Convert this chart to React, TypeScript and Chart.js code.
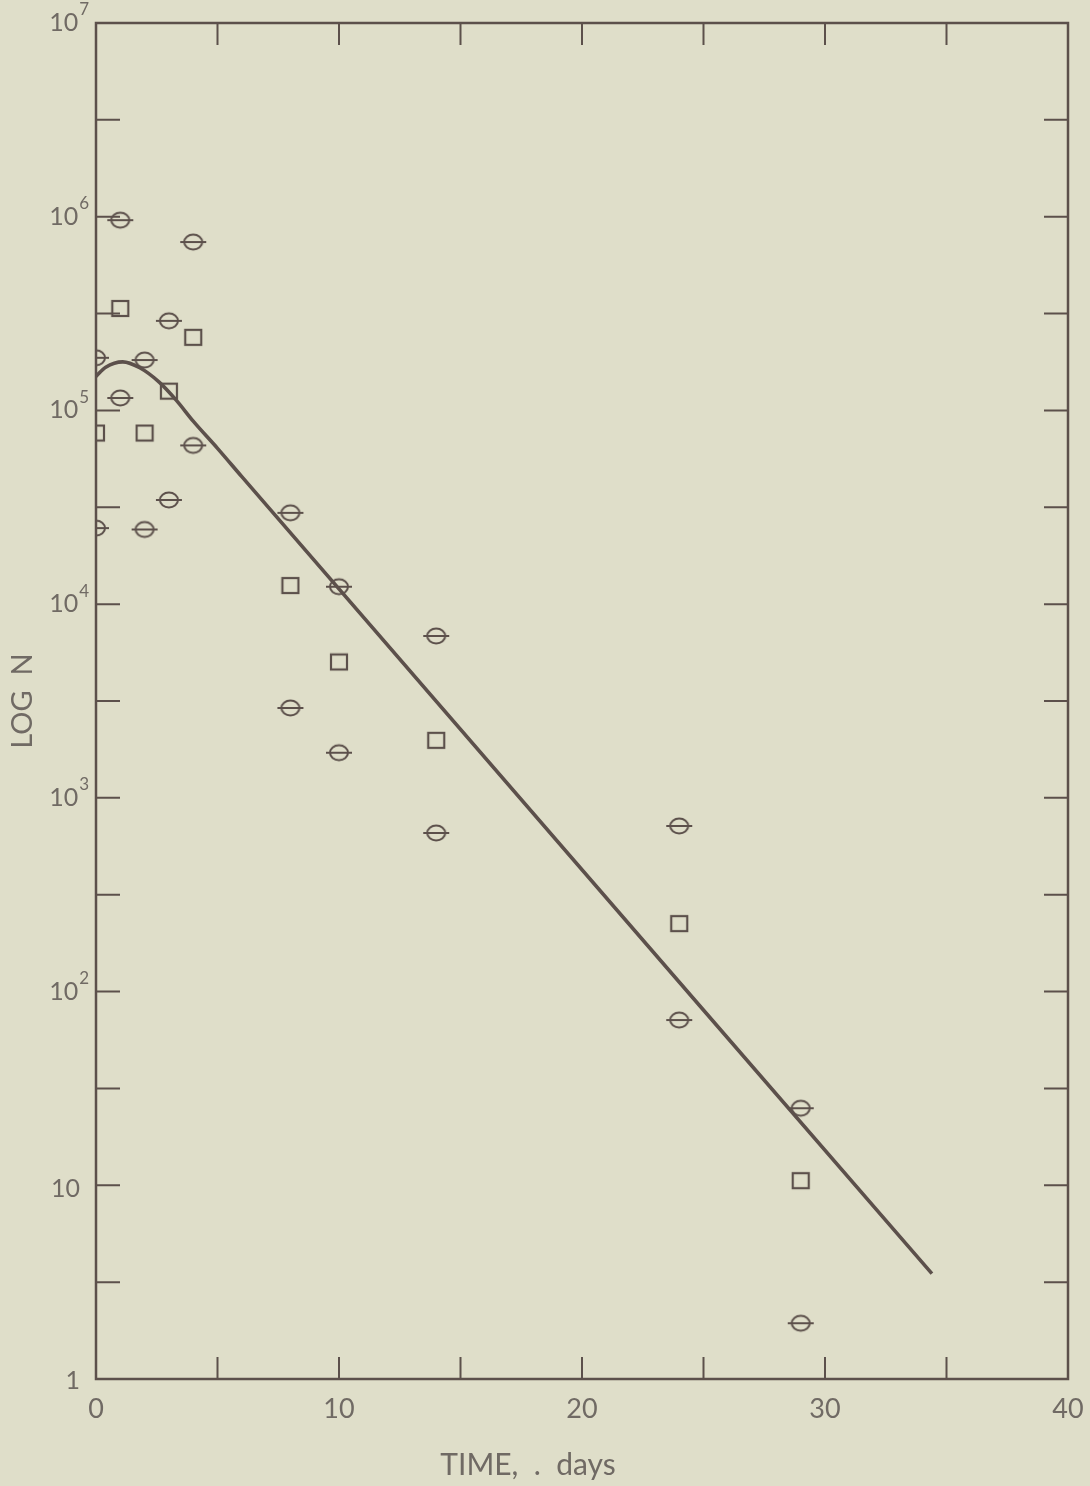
import React, { useEffect, useRef } from "react";
import { Chart, registerables } from "chart.js";

Chart.register(...registerables);

// ---- data ----
const timeDays = [0, 1, 2, 3, 4, 8, 10, 14, 24, 29];
const upperCounts = [1.87e5, 9.6e5, 1.82e5, 2.9e5, 7.4e5, 2.96e4, 1.23e4, 6.85e3, 716, 25];
const meanCounts = [7.6e4, 3.34e5, 7.6e4, 1.25e5, 2.37e5, 1.24e4, 5.0e3, 1.97e3, 223, 10.5];
const lowerCounts = [2.47e4, 1.16e5, 2.43e4, 3.45e4, 6.6e4, 2.91e3, 1.71e3, 659, 71.3, 1.94];

const curveX = [0, 0.4, 1.1, 1.8, 2.6, 3.3, 4.0, 5.0, 6.0, 34.4];
const curveY = [1.5e5, 1.67e5, 1.78e5, 1.66e5, 1.4e5, 1.13e5, 8.8e4, 6.37e4, 4.55e4, 3.5];

const xLabelValues = [0, 10, 20, 30, 40];
const xTickValues = [5, 10, 15, 20, 25, 30, 35];
const yLabelValues = [1, 10, 100, 1000, 10000, 100000, 1000000, 10000000];
const yLabelBase = ["1", "10", "10", "10", "10", "10", "10", "10"];
const yLabelExp = ["", "", "2", "3", "4", "5", "6", "7"];
const yTickValues = [3.162, 10, 31.62, 100, 316.2, 1000, 3162, 10000, 31623, 1e5, 316228, 1e6, 3162278];

const xTitle = "TIME,  .  days";
const yTitle = "LOG  N";

const INK = "#5c504b";
const TEXT = "#706a64";
const BG = "#dfdec9";
const FONT = "Lato, 'Open Sans', sans-serif";

function makeCircleMarker(): HTMLCanvasElement {
  const c = document.createElement("canvas");
  c.width = 30;
  c.height = 20;
  const g = c.getContext("2d")!;
  g.strokeStyle = INK;
  g.lineWidth = 2;
  g.beginPath();
  g.ellipse(15, 10, 9, 7.5, 0, 0, Math.PI * 2);
  g.stroke();
  g.beginPath();
  g.moveTo(2, 10);
  g.lineTo(28, 10);
  g.stroke();
  return c;
}

function makeSquareMarker(): HTMLCanvasElement {
  const c = document.createElement("canvas");
  c.width = 20;
  c.height = 20;
  const g = c.getContext("2d")!;
  g.strokeStyle = INK;
  g.lineWidth = 2.2;
  g.strokeRect(2, 2, 16, 15);
  return c;
}

const framePlugin = {
  id: "frameTicks",
  afterDatasetsDraw(chart: any) {
    const { ctx, chartArea, scales } = chart;
    const { left, right, top, bottom } = chartArea;
    ctx.save();
    ctx.strokeStyle = INK;
    ctx.lineWidth = 2.5;
    ctx.strokeRect(left, top, right - left, bottom - top);
    ctx.lineWidth = 2;
    const tl = 22;
    for (const v of xTickValues) {
      const px = scales.x.getPixelForValue(v);
      ctx.beginPath();
      ctx.moveTo(px, bottom);
      ctx.lineTo(px, bottom - tl);
      ctx.moveTo(px, top);
      ctx.lineTo(px, top + tl);
      ctx.stroke();
    }
    for (const v of yTickValues) {
      const py = scales.y.getPixelForValue(v);
      ctx.beginPath();
      ctx.moveTo(left, py);
      ctx.lineTo(left + 24, py);
      ctx.moveTo(right, py);
      ctx.lineTo(right - 24, py);
      ctx.stroke();
    }
    // y tick labels with superscripts
    ctx.fillStyle = TEXT;
    ctx.textBaseline = "middle";
    ctx.textAlign = "right";
    yLabelValues.forEach((v, i) => {
      const py = scales.y.getPixelForValue(v);
      const xr = left - 7;
      const exp = yLabelExp[i];
      let expW = 0;
      if (exp) {
        ctx.font = `17px ${FONT}`;
        expW = ctx.measureText(exp).width;
        ctx.fillText(exp, xr, py - 13);
      }
      ctx.font = `25px ${FONT}`;
      const off = i === 1 ? 4 : i === 0 ? 2 : 0;
      ctx.fillText(yLabelBase[i], xr - expW - 1 - (exp ? 0 : 8), py + off);
    });
    // x title
    ctx.font = `30px ${FONT}`;
    ctx.textAlign = "center";
    ctx.fillText(xTitle, 528, 1465);
    ctx.restore();
  },
};

export default function App() {
  const ref = useRef<HTMLCanvasElement | null>(null);
  useEffect(() => {
    const canvas = ref.current!;
    const circle = makeCircleMarker();
    const square = makeSquareMarker();
    const pts = (ys: number[]) => timeDays.map((x, i) => ({ x, y: ys[i] }));
    const chart = new Chart(canvas, {
      type: "scatter",
      data: {
        datasets: [
          {
            label: "curve",
            data: curveX.map((x, i) => ({ x, y: curveY[i] })),
            showLine: true,
            borderColor: INK,
            borderWidth: 3.6,
            pointRadius: 0,
            cubicInterpolationMode: "monotone",
          } as any,
          { label: "upper", data: pts(upperCounts), pointStyle: circle, pointRadius: 10 } as any,
          { label: "mean", data: pts(meanCounts), pointStyle: square, pointRadius: 10 } as any,
          { label: "lower", data: pts(lowerCounts), pointStyle: circle, pointRadius: 10 } as any,
        ],
      },
      plugins: [framePlugin],
      options: {
        animation: false,
        responsive: false,
        devicePixelRatio: 1,
        layout: { padding: { top: 23, right: 22, left: 0, bottom: 0 } },
        plugins: { legend: { display: false }, tooltip: { enabled: false } },
        scales: {
          x: {
            type: "linear",
            min: 0,
            max: 40,
            grid: { display: false, drawTicks: false },
            border: { display: false },
            afterBuildTicks: (s: any) => {
              s.ticks = xLabelValues.map((v) => ({ value: v }));
            },
            afterFit: (s: any) => {
              s.height = 107;
              s.paddingLeft = 0;
              s.paddingRight = 0;
            },
            ticks: {
              color: TEXT,
              font: { family: FONT, size: 27 },
              padding: 14,
              maxRotation: 0,
              callback: (v: any) => String(v),
            },
          },
          y: {
            type: "logarithmic",
            min: 1,
            max: 1e7,
            grid: { display: false, drawTicks: false },
            border: { display: false },
            afterBuildTicks: (s: any) => {
              s.ticks = yLabelValues.map((v) => ({ value: v }));
            },
            afterFit: (s: any) => {
              s.width = 96;
              s.paddingTop = 0;
              s.paddingBottom = 0;
            },
            ticks: { display: false },
            title: {
              display: true,
              text: yTitle,
              color: TEXT,
              font: { family: FONT, size: 29 },
              padding: { top: 5, bottom: 0 },
            },
          },
        },
      },
    });
    return () => chart.destroy();
  }, []);
  return (
    <div style={{ position: "fixed", left: 0, top: 0, width: 1090, height: 1486, background: BG }}>
      <canvas ref={ref} width={1090} height={1486} style={{ display: "block" }} />
    </div>
  );
}
